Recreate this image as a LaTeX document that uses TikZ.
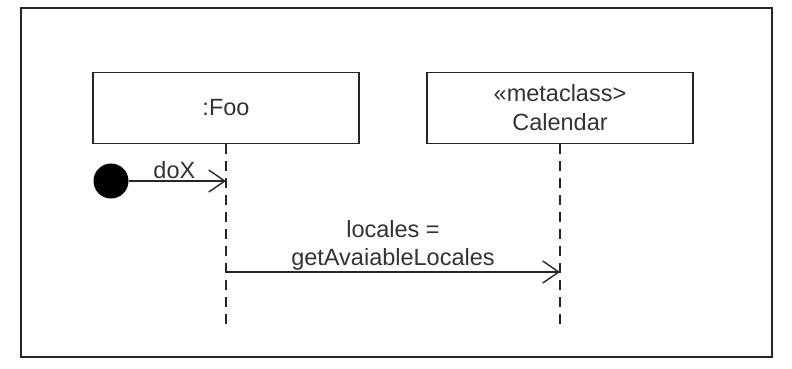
\documentclass[tikz,border=0pt]{standalone}
\usepackage{fontspec}
\setmainfont{Liberation Sans}
\usetikzlibrary{arrows.meta}

\begin{document}
\begin{tikzpicture}[x=1pt, y=-1pt,
    >={Straight Barb[length=16pt, width=22pt]},
    every node/.style={font=\fontsize{23.5}{28}\selectfont, text=black!80},
    objbox/.style={draw=black!85, line width=1.5pt, minimum width=266pt,
        minimum height=71pt, align=center, inner sep=0pt},
    lifeline/.style={draw=black!85, line width=1.3pt, dash pattern=on 10pt off 7pt},
    msg/.style={draw=black!85, ->, line width=1.4pt}]

% Marco exterior
\useasboundingbox (0,0) rectangle (792,368);
\draw[black!85, line width=1.8pt] (21,8) rectangle (772,357);

% =============================================
% OBJETOS
% =============================================
\node[objbox] (foo) at (226,108) {:Foo};
\node[objbox, font=\fontsize{23.5}{29}\selectfont] (cal) at (560,108) {«metaclass>\\Calendar};

% Líneas de vida
\coordinate (fooEnd) at (226,329);
\coordinate (calEnd) at (560,329);
\draw[lifeline] (foo.south) -- (fooEnd);
\draw[lifeline] (cal.south) -- (calEnd);

% =============================================
% MENSAJES
% =============================================
% Mensaje inicial desde el punto de entrada
\node[circle, fill=black, minimum size=35pt, inner sep=0pt] (start) at (111,181) {};
\coordinate (doxEnd) at (226,181);
\draw[msg] (start) -- (doxEnd) node[midway, above, inner sep=2pt, xshift=-3pt] (dox) {doX};

% Llamada a Calendar
\coordinate (getStart) at (226,272);
\coordinate (getEnd) at (560,272);
\draw[msg] (getStart) -- (getEnd)
    node[midway, above, inner sep=1pt, align=center] (getlbl) {locales =\\getAvaiableLocales};

\end{tikzpicture}
\end{document}
